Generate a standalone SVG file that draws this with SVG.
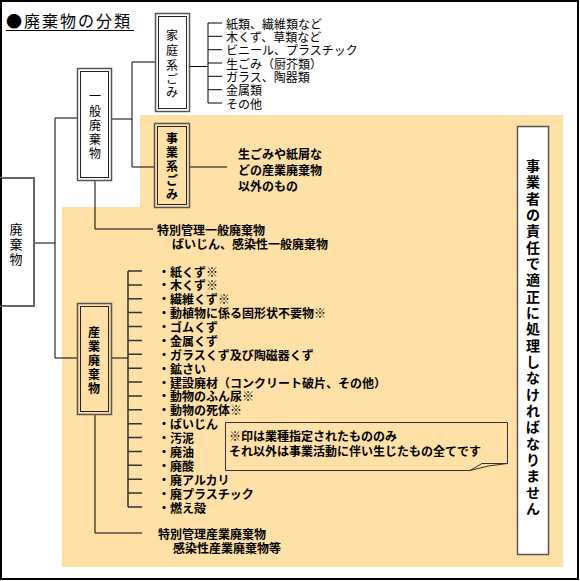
<svg xmlns="http://www.w3.org/2000/svg" width="580" height="581" viewBox="0 0 580 581">
<style>
text{font-family:"Noto Sans CJK JP","Noto Sans CJK SC",sans-serif;fill:#000;dominant-baseline:central}
.b{font-weight:bold}
.s12{font-size:12px}
.v{font-size:12px}
.ob{stroke:#555;stroke-width:1.5}
.ib{fill:none;stroke:#222;stroke-width:1}
.cn{fill:none;stroke:#000;stroke-width:1}
.br{fill:none;stroke:#333;stroke-width:1.5}
</style>
<rect x="0" y="0" width="580" height="581" fill="#fff"/>
<polygon points="140,115 563,115 563,567 62,567 62,207 140,207" fill="#FFE0A6"/>
<rect x="1" y="1" width="577" height="578" fill="none" stroke="#000" stroke-width="2"/>

<g id="title">
<text x="6" y="20" style="font-size:16px;letter-spacing:2px">●廃棄物の分類</text>
<line x1="6" y1="30.5" x2="134" y2="30.5" stroke="#000" stroke-width="1"/>
</g>

<g id="connectors">
<path class="cn" d="M34,243H55M55,118V358M55,118H77M55,358H77"/>
<path class="cn" d="M112,119H132M132,62V167M132,62H155M132,167H154M190,167H227"/>
<path class="cn" d="M190,66.5H208M208,23V103M208,23H222M208,36.3H222M208,49.7H222M208,63H222M208,76.3H222M208,89.7H222M208,103H222"/>
<path class="cn" d="M95,181V229H153"/>
<path class="cn" d="M112,358H128"/>
<path class="br" d="M128,271V507M128,271H142M128,284.9H142M128,298.8H142M128,312.6H142M128,326.5H142M128,340.4H142M128,354.3H142M128,368.2H142M128,382H142M128,395.9H142M128,409.8H142M128,423.7H142M128,437.6H142M128,451.4H142M128,465.3H142M128,479.2H142M128,493.1H142M128,507H142"/>
<path class="cn" d="M95,415V533H142"/>
</g>

<g id="node-haikibutsu">
<rect x="-2" y="178" width="36" height="128" fill="#fff" stroke="#666" stroke-width="2"/>
<line x1="1" y1="178" x2="1" y2="306" stroke="#000" stroke-width="2"/>
<text x="16" y="228" text-anchor="middle" style="font-size:13px"><tspan x="16" y="228">廃</tspan><tspan x="16" y="243">棄</tspan><tspan x="16" y="258">物</tspan></text>
</g>

<g id="node-ippan">
<rect class="ob" x="77.5" y="68.5" width="34" height="112" fill="#fff"/>
<rect class="ib" x="80.5" y="71.5" width="28" height="106"/>
<text class="v" text-anchor="middle"><tspan x="95" y="95">一</tspan><tspan x="95" y="110">般</tspan><tspan x="95" y="124">廃</tspan><tspan x="95" y="138">棄</tspan><tspan x="95" y="152">物</tspan></text>
</g>

<g id="node-katei">
<rect class="ob" x="155.5" y="13.5" width="34" height="98" fill="#fff"/>
<rect class="ib" x="158.5" y="16.5" width="28" height="92"/>
<text class="v" text-anchor="middle"><tspan x="172" y="34">家</tspan><tspan x="172" y="49">庭</tspan><tspan x="172" y="64">系</tspan><tspan x="172" y="78">ご</tspan><tspan x="172" y="91">み</tspan></text>
</g>

<g id="katei-items">
<text class="s12" x="226" y="23">紙類、繊維類など</text>
<text class="s12" x="226" y="36.3">木くず、草類など</text>
<text class="s12" x="226" y="49.7">ビニール、プラスチック</text>
<text class="s12" x="226" y="63">生ごみ（厨芥類）</text>
<text class="s12" x="226" y="76.3">ガラス、陶器類</text>
<text class="s12" x="226" y="89.7">金属類</text>
<text class="s12" x="226" y="103">その他</text>
</g>

<g id="node-jigyou">
<rect class="ob" x="154.5" y="123.5" width="35" height="84" fill="none"/>
<rect class="ib" x="157.5" y="126.5" width="29" height="78"/>
<text class="b v" text-anchor="middle"><tspan x="172" y="137">事</tspan><tspan x="172" y="151">業</tspan><tspan x="172" y="165">系</tspan><tspan x="172" y="179">ご</tspan><tspan x="172" y="193">み</tspan></text>
</g>

<g id="jigyou-text">
<text class="b s12" x="238" y="153">生ごみや紙屑な</text>
<text class="b s12" x="238" y="169">どの産業廃棄物</text>
<text class="b s12" x="238" y="185">以外のもの</text>
</g>

<g id="special-general">
<text class="b s12" x="157" y="229">特別管理一般廃棄物</text>
<text class="b s12" x="172" y="243">ばいじん、感染性一般廃棄物</text>
</g>

<g id="node-sangyou">
<rect class="ob" x="77.5" y="303.5" width="34" height="111" fill="none"/>
<rect class="ib" x="80.5" y="306.5" width="28" height="105"/>
<text class="b v" text-anchor="middle"><tspan x="94" y="331">産</tspan><tspan x="94" y="345">業</tspan><tspan x="94" y="359">廃</tspan><tspan x="94" y="373">棄</tspan><tspan x="94" y="387">物</tspan></text>
</g>

<g id="sangyou-items">
<text class="b s12" x="158" y="271">・紙くず※</text>
<text class="b s12" x="158" y="284.9">・木くず※</text>
<text class="b s12" x="158" y="298.8">・繊維くず※</text>
<text class="b s12" x="158" y="312.6">・動植物に係る固形状不要物※</text>
<text class="b s12" x="158" y="326.5">・ゴムくず</text>
<text class="b s12" x="158" y="340.4">・金属くず</text>
<text class="b s12" x="158" y="354.3">・ガラスくず及び陶磁器くず</text>
<text class="b s12" x="158" y="368.2">・鉱さい</text>
<text class="b s12" x="158" y="382">・建設廃材（コンクリート破片、その他）</text>
<text class="b s12" x="158" y="395.9">・動物のふん尿※</text>
<text class="b s12" x="158" y="409.8">・動物の死体※</text>
<text class="b s12" x="158" y="423.7">・ばいじん</text>
<text class="b s12" x="158" y="437.6">・汚泥</text>
<text class="b s12" x="158" y="451.4">・廃油</text>
<text class="b s12" x="158" y="465.3">・廃酸</text>
<text class="b s12" x="158" y="479.2">・廃アルカリ</text>
<text class="b s12" x="158" y="493.1">・廃プラスチック</text>
<text class="b s12" x="158" y="507">・燃え殻</text>
</g>

<g id="special-industrial">
<text class="b s12" x="158" y="533">特別管理産業廃棄物</text>
<text class="b s12" x="173" y="547">感染性産業廃棄物等</text>
</g>

<g id="note">
<path d="M225.5,422.5H507.5V463.5H482Q476,467 470,470.5H225.5Z" fill="#FFE0A6" stroke="#333" stroke-width="1"/>
<path d="M470,470.5Q488,465 507.5,463.5" fill="none" stroke="#333" stroke-width="1"/>
<text class="b s12" x="229" y="435">※印は業種指定されたもののみ</text>
<text class="b s12" x="229" y="450">それ以外は事業活動に伴い生じたもの全てです</text>
</g>

<g id="responsibility">
<rect x="517.5" y="126.5" width="31" height="428" fill="#fff" stroke="#555" stroke-width="1.5"/>
<text class="b" text-anchor="middle" style="font-size:14px">
<tspan x="533" y="165">事</tspan><tspan x="533" y="181.3">業</tspan><tspan x="533" y="197.7">者</tspan><tspan x="533" y="214">の</tspan><tspan x="533" y="230.3">責</tspan><tspan x="533" y="246.7">任</tspan><tspan x="533" y="263">で</tspan><tspan x="533" y="279.3">適</tspan><tspan x="533" y="295.7">正</tspan><tspan x="533" y="312">に</tspan><tspan x="533" y="328.3">処</tspan><tspan x="533" y="344.7">理</tspan><tspan x="533" y="361">し</tspan><tspan x="533" y="377.3">な</tspan><tspan x="533" y="393.7">け</tspan><tspan x="533" y="410">れ</tspan><tspan x="533" y="426.3">ば</tspan><tspan x="533" y="442.7">な</tspan><tspan x="533" y="459">り</tspan><tspan x="533" y="475.3">ま</tspan><tspan x="533" y="491.7">せ</tspan><tspan x="533" y="508">ん</tspan>
</text>
</g>
</svg>
